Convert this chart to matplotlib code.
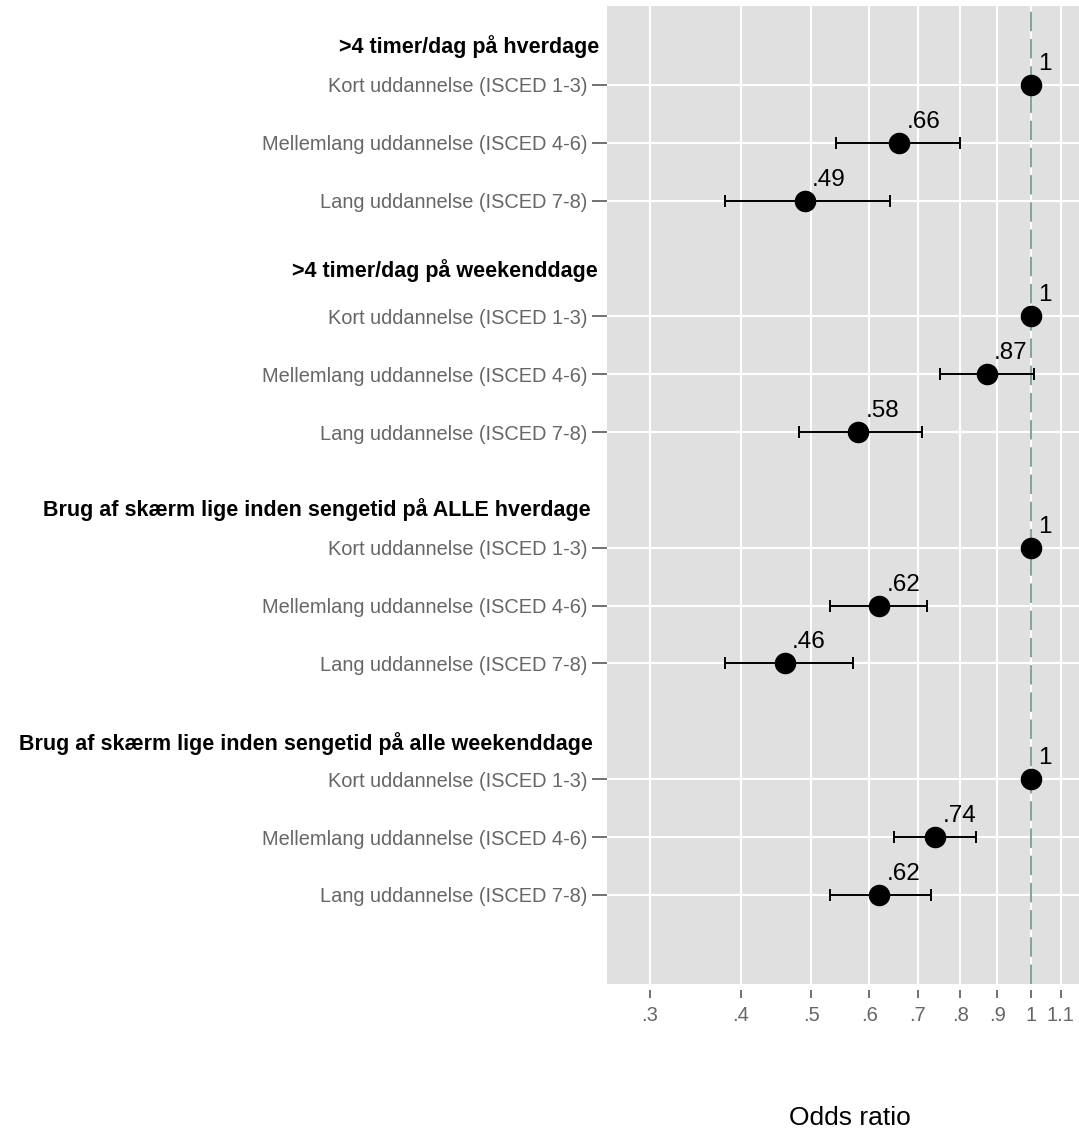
import numpy as np
import matplotlib
matplotlib.use("Agg")
import matplotlib.pyplot as plt
from matplotlib.transforms import blended_transform_factory

plt.rcParams['font.family'] = ['Liberation Sans', 'DejaVu Sans']

# odds ratios (reference = kort uddannelse) with 95% CI
outcomes = ['>4 timer/dag på hverdage',
            '>4 timer/dag på weekenddage',
            'Brug af skærm lige inden sengetid på ALLE hverdage',
            'Brug af skærm lige inden sengetid på alle weekenddage']
levels = ['Kort uddannelse (ISCED 1-3)',
          'Mellemlang uddannelse (ISCED 4-6)',
          'Lang uddannelse (ISCED 7-8)']
odds = [[1, 0.66, 0.49],
        [1, 0.87, 0.58],
        [1, 0.62, 0.46],
        [1, 0.74, 0.62]]
ci_lo = [[np.nan, 0.54, 0.38],
         [np.nan, 0.75, 0.48],
         [np.nan, 0.53, 0.38],
         [np.nan, 0.65, 0.53]]
ci_hi = [[np.nan, 0.80, 0.64],
         [np.nan, 1.01, 0.71],
         [np.nan, 0.72, 0.57],
         [np.nan, 0.84, 0.73]]
val_labels = [['1', '.66', '.49'],
              ['1', '.87', '.58'],
              ['1', '.62', '.46'],
              ['1', '.74', '.62']]
xticks = [0.3, 0.4, 0.5, 0.6, 0.7, 0.8, 0.9, 1.0, 1.1]
xtick_labels = ['.3', '.4', '.5', '.6', '.7', '.8', '.9', '1', '1.1']

W, H = 1079, 1131
fig = plt.figure(figsize=(W / 100, H / 100), dpi=100)
ax = fig.add_axes([607 / W, (H - 984) / H, (W - 607) / W, (984 - 6) / H])
ax.set_facecolor('#e0e0e0')
for s in ['top', 'right', 'left']:
    ax.spines[s].set_visible(False)
ax.spines['bottom'].set_position(('outward', 4))
ax.spines['bottom'].set_color('none')

ax.set_xscale('log')
ax.set_xlim(0.262, 1.165)
ax.set_ylim(16.54, -0.365)

grey = '#666666'
ytick_pos = []
ytick_lab = []
# header placement: offset above first row, right edge in pixels
header_off = [0.66, 0.80, 0.66, 0.61]
header_right = [599, 598, 591, 593]
trans_hdr = blended_transform_factory(fig.transFigure, ax.transData)

for g in range(len(outcomes)):
    ys = 4 * g + 1 + np.arange(3)
    o = np.array(odds[g], dtype=float)
    lo = np.array(ci_lo[g], dtype=float)
    hi = np.array(ci_hi[g], dtype=float)
    m = ~np.isnan(lo)
    ax.errorbar(o[m], ys[m], xerr=[o[m] - lo[m], hi[m] - o[m]], fmt='none',
                ecolor='black', elinewidth=1.4, capsize=4, capthick=1.4, zorder=3)
    ax.plot(o, ys, 'o', color='black', markersize=14.5, zorder=4)
    for xv, yv, t in zip(o, ys, val_labels[g]):
        ax.annotate(t, (xv, yv), xytext=(7, 15), textcoords='offset pixels',
                    ha='left', va='baseline', fontsize=17.5, color='black', zorder=5)
    ytick_pos.extend(ys)
    ytick_lab.extend(levels)
    ax.text(header_right[g] / W, ys[0] - header_off[g], outcomes[g], transform=trans_hdr,
            ha='right', va='center', fontsize=15.5, fontweight='bold', color='black')

ax.set_yticks(ytick_pos)
ax.set_yticklabels(ytick_lab)
ax.set_xticks(xticks)
ax.set_xticklabels(xtick_labels)
ax.xaxis.set_minor_locator(plt.NullLocator())

ax.tick_params(axis='y', length=11, width=1.3, color=grey, labelcolor=grey,
               labelsize=14.4, pad=3)
ax.tick_params(axis='x', length=6, width=1.3, color=grey, labelcolor=grey,
               labelsize=14.5, pad=6)

ax.grid(True, color='white', linewidth=1.5)
ax.set_axisbelow(True)

# reference line at OR = 1
ax.axvline(1, color='#7fa595', linewidth=1.4, dashes=(10, 4), zorder=2)

fig.text(850 / W, 1 - 1118 / H, 'Odds ratio', ha='center', va='center',
         fontsize=19, color='black')

fig.savefig('out.png', dpi=100)
